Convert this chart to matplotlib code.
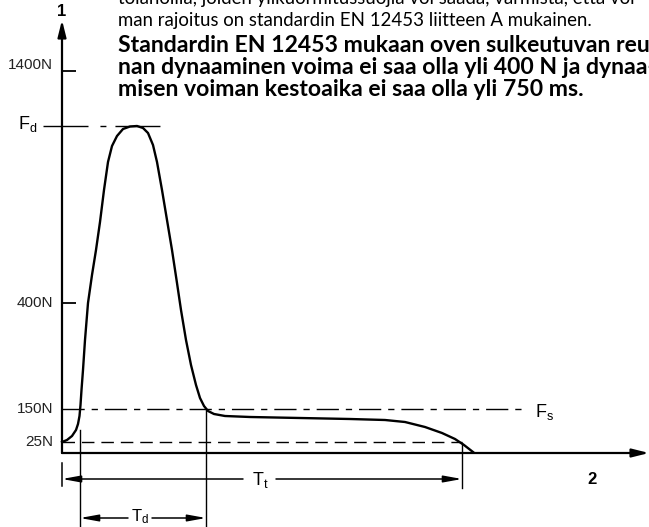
import matplotlib
matplotlib.use('Agg')
import matplotlib.pyplot as plt

plt.rcParams['lines.scale_dashes'] = False

# ---------------- data (schematic diagram units: time right, force up) -------------
force_labels = ['1400N', '400N', '150N', '25N']
force_levels = [382, 150, 44, 11]
tick_levels = [382, 150]
fd_level = 327
fs_level = 44
f25_level = 11

curve_t = [0, 5, 10, 14, 16, 17.5, 18.5, 19.5, 21, 23, 26, 30, 34, 38, 42, 46, 50, 55,
           61, 68, 75, 81, 86, 91, 95, 100, 105, 110, 115, 119, 124, 129, 134, 138,
           142, 146, 152, 163, 188, 238, 288, 323, 343, 363, 380, 393, 402, 411]
curve_f = [11, 13, 17, 23, 29, 37, 48, 63, 83, 113, 150, 178, 203, 231, 263, 291, 307, 317,
           324, 326.5, 327, 325, 320, 308, 291, 263, 233, 203, 170, 143, 113, 88, 68, 55,
           47, 42, 39, 37, 36, 35, 34, 33, 31, 26, 20, 14, 8, 1]

td_start, td_end = 18, 144
tt_start, tt_end = 0, 400

text_lines = [
    ("tolanoilla, joiden ylikuormitussuojia voi saada, varmista, että voi-", 'normal'),
    ("man rajoitus on standardin EN 12453 liitteen A mukainen.", 'normal'),
    ("Standardin EN 12453 mukaan oven sulkeutuvan reu-", 'bold'),
    ("nan dynaaminen voima ei saa olla yli 400 N ja dynaa-", 'bold'),
    ("misen voiman kestoaika ei saa olla yli 750 ms.", 'bold'),
]

# ---------------- figure ----------------
fig = plt.figure(figsize=(6.49, 5.27), dpi=100)
ax = fig.add_axes([0, 0, 1, 1])
ax.set_xlim(-62, 587)
ax.set_ylim(-74, 453)
ax.axis('off')

K = 'black'
lw_axis = 1.6
arrow_axis = dict(arrowstyle='-|>,head_length=1.0,head_width=0.25', lw=lw_axis,
                  color=K, shrinkA=0, shrinkB=0)
arrow_dim = dict(arrowstyle='-|>,head_length=1.1,head_width=0.2', lw=1.1,
                 color=K, shrinkA=0, shrinkB=0)

# axes with arrows
ax.annotate('', xy=(0, 433), xytext=(0, 0), arrowprops=arrow_axis)
ax.annotate('', xy=(587, 0), xytext=(0, 0), arrowprops=arrow_axis)
ax.text(0, 441, '1', ha='center', va='center', fontsize=12, fontweight='bold',
        family='Liberation Sans')
ax.text(530, -26, '2', ha='center', va='center', fontsize=12, fontweight='bold',
        family='Liberation Sans')

# ticks and labels
for lv in tick_levels:
    ax.plot([0, 14], [lv, lv], color=K, lw=1.3, solid_capstyle='butt')
for lab, lv in zip(force_labels, force_levels):
    ax.text(-9, lv + (6 if lv == 382 else 0), lab, ha='right', va='center', fontsize=11,
            family='Liberation Sans', color='#222222')

# reference lines
ax.plot([-19, 98], [fd_level, fd_level], color=K, lw=1.0,
        dashes=(32.4, 8.6, 4.3, 6.5, 32.4, 200))
ax.text(-44, fd_level + 2, r'$\mathregular{F_d}$', ha='left', va='center', fontsize=13,
        family='Liberation Sans')
ax.plot([0, 460], [fs_level, fs_level], color=K, lw=1.0, dashes=(16, 5, 4.5, 5))
ax.text(473, fs_level - 3, r'$\mathregular{F_s}$', ha='left', va='center', fontsize=13,
        family='Liberation Sans')
ax.plot([0, tt_end], [f25_level, f25_level], color=K, lw=1.0, dashes=(9, 5))

# force curve
ax.plot(curve_t, curve_f, color=K, lw=1.7, solid_joinstyle='round')

# Td dimension
ax.plot([td_start, td_start], [23, -74], color=K, lw=1.0)
ax.plot([td_end, td_end], [fs_level, -74], color=K, lw=1.0)
ax.annotate('', xy=(td_start, -65), xytext=(66, -65), arrowprops=arrow_dim)
ax.annotate('', xy=(td_end, -65), xytext=(90, -65), arrowprops=arrow_dim)
ax.text(78, -64, r'$\mathregular{T_d}$', ha='center', va='center', fontsize=12,
        family='Liberation Sans')

# Tt dimension
ax.plot([tt_start, tt_start], [-10, -33], color=K, lw=1.1)
ax.plot([tt_end, tt_end], [10, -35], color=K, lw=1.0)
ax.annotate('', xy=(tt_start, -26), xytext=(181, -26), arrowprops=arrow_dim)
ax.annotate('', xy=(tt_end, -26), xytext=(214, -26), arrowprops=arrow_dim)
ax.text(198, -27, r'$\mathregular{T_t}$', ha='center', va='center', fontsize=13,
        family='Liberation Sans')

# text block, fitted to widths
renderer = fig.canvas.get_renderer()
baselines = [449, 427, 401, 379, 357]
targets = {1: 472, 4: 460}
sizes = {}
for idx, target in targets.items():
    s, w = text_lines[idx]
    t = ax.text(56, 0, s, fontsize=12, fontweight=w, family='Lato')
    width = t.get_window_extent(renderer).width
    sizes[w] = 12 * target / width
    t.remove()
for (s, w), b in zip(text_lines, baselines):
    ax.text(56, b, s, ha='left', va='baseline', fontsize=sizes[w], fontweight=w,
            family='Lato', clip_on=True)

fig.savefig('out.png', dpi=100)
